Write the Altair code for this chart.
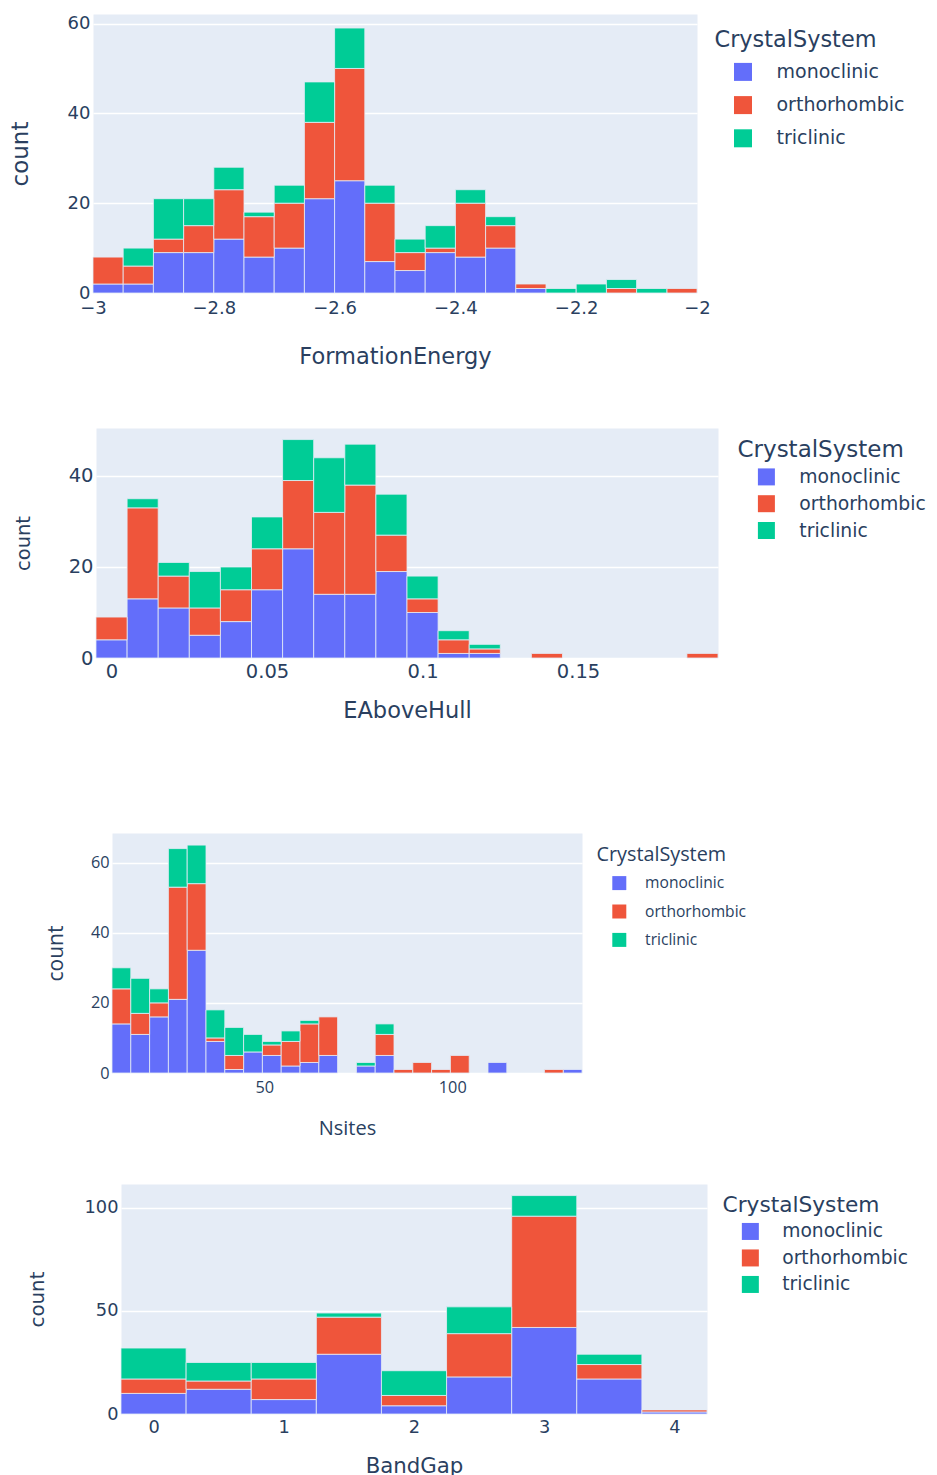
import altair as alt
import pandas as pd

SYSTEMS = ["monoclinic", "orthorhombic", "triclinic"]
COLORS = ["#636EFA", "#EF553B", "#00CC96"]
TEXT = "#2a3f5f"
BG = "#E5ECF6"

# ---- FormationEnergy (bins of 0.05 from -3 to -2)
fe_edges = [round(-3.0 + 0.05 * i, 3) for i in range(21)]
fe_mono = [2, 2, 9, 9, 12, 8, 10, 21, 25, 7, 5, 9, 8, 10, 1, 0, 0, 0, 0, 0]
fe_ortho = [6, 4, 3, 6, 11, 9, 10, 17, 25, 13, 4, 1, 12, 5, 1, 0, 0, 1, 0, 1]
fe_tri = [0, 4, 9, 6, 5, 1, 4, 9, 9, 4, 3, 5, 3, 2, 0, 1, 2, 2, 1, 0]
fe_xticks = [-3.0, -2.8, -2.6, -2.4, -2.2, -2.0]
fe_yticks = [0, 20, 40, 60]

# ---- EAboveHull (bins of 0.01 from -0.005 to 0.195)
eh_edges = [round(-0.005 + 0.01 * i, 4) for i in range(21)]
eh_mono = [4, 13, 11, 5, 8, 15, 24, 14, 14, 19, 10, 1, 1, 0, 0, 0, 0, 0, 0, 0]
eh_ortho = [5, 20, 7, 6, 7, 9, 15, 18, 24, 8, 3, 3, 1, 0, 1, 0, 0, 0, 0, 1]
eh_tri = [0, 2, 3, 8, 5, 7, 9, 12, 9, 9, 5, 2, 1, 0, 0, 0, 0, 0, 0, 0]
eh_xticks = [0, 0.05, 0.1, 0.15]
eh_yticks = [0, 20, 40]

# ---- Nsites (bins of 5 from 9.5 to 134.5)
ns_edges = [9.5 + 5 * i for i in range(26)]
ns_mono = [14, 11, 16, 21, 35, 9, 1, 6, 5, 2, 3, 5, 0, 2, 5, 0, 0, 0, 0, 0, 3, 0, 0, 0, 1]
ns_ortho = [10, 6, 4, 32, 19, 1, 4, 0, 3, 7, 11, 11, 0, 0, 6, 1, 3, 1, 5, 0, 0, 0, 0, 1, 0]
ns_tri = [6, 10, 4, 11, 11, 8, 8, 5, 1, 3, 1, 0, 0, 1, 3, 0, 0, 0, 0, 0, 0, 0, 0, 0, 0]
ns_xticks = [50, 100]
ns_yticks = [0, 20, 40, 60]

# ---- BandGap (bins of 0.5 from -0.25 to 4.25)
bg_edges = [-0.25 + 0.5 * i for i in range(10)]
bg_mono = [10, 12, 7, 29, 4, 18, 42, 17, 1]
bg_ortho = [7, 4, 10, 18, 5, 21, 54, 7, 1]
bg_tri = [15, 9, 8, 2, 12, 13, 10, 5, 0]
bg_xticks = [0, 1, 2, 3, 4]
bg_yticks = [0, 50, 100]


def make_df(edges, mono, ortho, tri):
    rows = []
    for k, (sysname, vals) in enumerate(zip(SYSTEMS, [mono, ortho, tri])):
        for i, v in enumerate(vals):
            rows.append({"x0": edges[i], "x1": edges[i + 1], "system": sysname,
                         "count": v, "ord": k})
    return pd.DataFrame(rows)


def panel(df, edges, xtitle, width, height, xticks, yticks, ytop, font,
          tick_fs, ytitle_fs, xtitle_fs, leg_title_fs, leg_label_fs,
          ytitle_x, xlabel_off, xtitle_off, grid_w,
          legx, legy, leg_tpad, leg_rpad, sym, sym_off, lab_off):
    return alt.Chart(df).transform_filter("datum.count > 0").transform_stack(
        stack="count", groupby=["x0"],
        sort=[alt.SortField("ord", order="ascending")], as_=["y0", "y1"]
    ).mark_bar(stroke=BG, strokeWidth=0.8).encode(
        x=alt.X("x0:Q", title=xtitle,
                scale=alt.Scale(domain=[edges[0], edges[-1]], nice=False, zero=False),
                axis=alt.Axis(values=xticks, format="~r", grid=False, domain=False,
                              ticks=False, tickSize=0, labelFlush=False,
                              labelOverlap=False, labelFont=font, labelFontSize=tick_fs,
                              labelColor=TEXT, labelBaseline="middle",
                              labelPadding=xlabel_off, titleFont=font,
                              titleFontSize=xtitle_fs, titleFontWeight="normal",
                              titleColor=TEXT, titleBaseline="middle",
                              titleAlign="center", titleX=width / 2,
                              titleY=xtitle_off)),
        x2="x1:Q",
        y=alt.Y("y0:Q", title="count",
                scale=alt.Scale(domain=[0, ytop], nice=False),
                axis=alt.Axis(values=yticks, format="~r", grid=True, gridColor="white",
                              gridWidth=grid_w, domain=False, ticks=False, tickSize=0,
                              labelFlush=False, labelOverlap=False, labelFont=font,
                              labelFontSize=tick_fs, labelColor=TEXT, labelPadding=3,
                              titleFont=font, titleFontSize=ytitle_fs,
                              titleFontWeight="normal", titleColor=TEXT,
                              titleAngle=270, titleBaseline="middle",
                              titleAlign="center", titleX=-ytitle_x,
                              titleY=height / 2)),
        y2="y1:Q",
        color=alt.Color("system:N", title="CrystalSystem",
                        scale=alt.Scale(domain=SYSTEMS, range=COLORS),
                        legend=alt.Legend(orient="none", legendX=legx, legendY=legy,
                                          symbolType="square", symbolSize=sym * sym,
                                          symbolStrokeWidth=0, symbolOpacity=1,
                                          symbolOffset=sym_off, labelOffset=lab_off,
                                          titleFont=font, titleFontSize=leg_title_fs,
                                          titleFontWeight="normal", titleColor=TEXT,
                                          titlePadding=leg_tpad, labelFont=font,
                                          labelFontSize=leg_label_fs, labelColor=TEXT,
                                          rowPadding=leg_rpad)),
    ).properties(width=width, height=height,
                 view=alt.ViewBackground(fill=BG, strokeOpacity=0))


def spacer(w, h):
    return alt.Chart(pd.DataFrame({"s": [0]})).mark_point(
        opacity=0, size=0, strokeWidth=0
    ).encode(
        x=alt.value(0), y=alt.value(0)
    ).properties(width=w, height=h, view=alt.ViewBackground(strokeOpacity=0))


def ymax(a, b, c):
    return max(x + y + z for x, y, z in zip(a, b, c)) * 1.053


p1 = panel(make_df(fe_edges, fe_mono, fe_ortho, fe_tri), fe_edges, "FormationEnergy",
           604, 279, fe_xticks, fe_yticks, ymax(fe_mono, fe_ortho, fe_tri), "DejaVu Sans",
           18, 23, 22.5, 22.4, 19, 73, 15, 63, 1.6,
           621.5, 15, 11, 13.2, 18, 19, 24)
p2 = panel(make_df(eh_edges, eh_mono, eh_ortho, eh_tri), eh_edges, "EAboveHull",
           622, 230, eh_xticks, eh_yticks, ymax(eh_mono, eh_ortho, eh_tri), "DejaVu Sans",
           19.5, 19.5, 22.5, 23, 18.8, 73, 13, 52, 1.6,
           641.5, 10.5, 6, 6.8, 17, 19.5, 23.5)
p3 = panel(make_df(ns_edges, ns_mono, ns_ortho, ns_tri), ns_edges, "Nsites",
           470, 240, ns_xticks, ns_yticks, ymax(ns_mono, ns_ortho, ns_tri), "Open Sans",
           16.3, 21, 20, 19.8, 15.6, 56, 14, 55, 1.3,
           484.5, 12, 10.5, 11.4, 14, 15, 18)
p4 = panel(make_df(bg_edges, bg_mono, bg_ortho, bg_tri), bg_edges, "BandGap",
           586, 230, bg_xticks, bg_yticks, ymax(bg_mono, bg_ortho, bg_tri), "DejaVu Sans",
           17.8, 19.8, 21.3, 21.7, 18.7, 84, 13, 52, 1.6,
           601.5, 11.2, 5.2, 6.5, 17, 18.5, 22.5)


def row(sp_w, sp_h, p):
    return alt.hconcat(spacer(sp_w, sp_h), p, spacing=0).resolve_scale(
        color="independent").resolve_legend(color="independent")


chart = alt.vconcat(
    row(0.5, 414, p1),
    row(4.25, 405, p2),
    row(36.5, 351, p3),
    row(18.1, 230, p4),
    spacing=0,
).resolve_scale(color="independent").resolve_legend(color="independent").properties(
    padding={"left": 0, "top": 6, "right": 0, "bottom": 0}
).configure(background="white")

chart.save("out.html", embed_options={"renderer": "svg", "actions": False})
